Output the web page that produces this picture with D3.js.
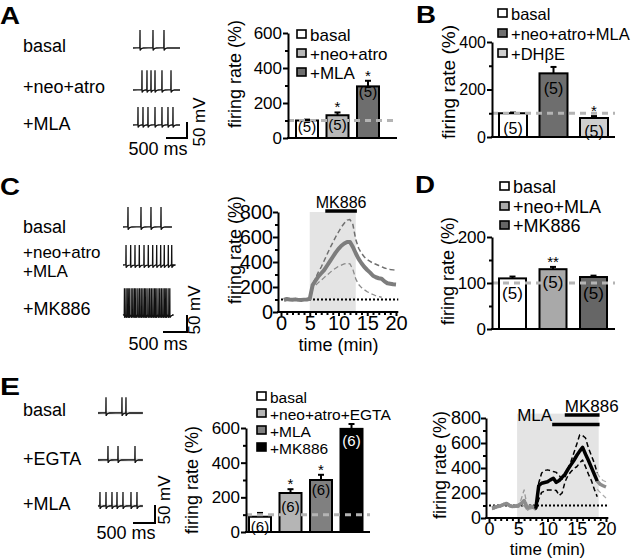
<!DOCTYPE html>
<html>
<head>
<meta charset="utf-8">
<script src="https://cdn.jsdelivr.net/npm/d3@7"></script>
<style>
  body { margin: 0; background: #fff; }
  svg text { font-family: "Liberation Sans", Arial, Helvetica, sans-serif; fill: #000; }
</style>
</head>
<body>
<svg id="fig" width="640" height="558"></svg>
<script>
const FONT = '"Liberation Sans", Arial, Helvetica, sans-serif';

// ---------- data ----------
// A: firing rate (%)
const aCats = ['basal', '+neo+atro', '+MLA'];
const aValues = [100, 130, 295];
const aErrors = [5, 16, 32];
const aN = ['(5)', '(5)', '(5)'];
const aStars = ['', '*', '*'];

// B
const bCats = ['basal', '+neo+atro+MLA', '+DH\u03B2E'];
const bValues = [100, 268, 80];
const bErrors = [3, 27, 8];
const bN = ['(5)', '(5)', '(5)'];
const bStars = ['', '', '*'];

// D
const dCats = ['basal', '+neo+MLA', '+MK886'];
const dValues = [110, 130, 113];
const dErrors = [4, 5, 3];
const dN = ['(5)', '(5)', '(5)'];
const dStars = ['', '**', ''];

// E bars
const eCats = ['basal', '+neo+atro+EGTA', '+MLA', '+MK886'];
const eValues = [88, 225, 300, 595];
const eErrors = [22, 22, 30, 28];
const eN = ['(6)', '(6)', '(6)', '(6)'];
const eStars = ['', '*', '*', ''];

// C time course (min, %)
const cTime = [0.5, 1, 1.5, 2, 2.5, 3, 3.5, 4, 4.5, 5, 5.5, 6, 6.5, 7, 7.5, 8, 8.5, 9, 9.5, 10,
  10.5, 11, 11.5, 12, 12.5, 13, 13.5, 14, 14.5, 15, 15.5, 16, 16.5, 17, 17.5, 18, 18.5, 19, 19.5, 20];
const cMean = [96, 104, 100, 98, 101, 97, 96, 99, 100, 105, 215, 250, 285, 310, 335, 370, 405, 440, 475, 505,
  530, 548, 560, 560, 520, 470, 425, 390, 360, 336, 315, 290, 278, 270, 266, 245, 230, 226, 222, 220];
const cUpperTime = [5, 5.5, 6, 6.5, 7, 7.5, 8, 8.5, 9, 9.5, 10, 10.5, 11, 11.5, 12, 12.5, 13, 13.5,
  14, 14.5, 15, 15.5, 16, 16.5, 17, 17.5, 18, 18.5, 19, 19.5, 20];
const cUpper = [105, 225, 270, 320, 360, 410, 460, 510, 555, 600, 640, 680, 710, 735, 740, 700, 580, 510,
  470, 440, 420, 405, 390, 382, 372, 362, 352, 345, 340, 337, 335];
const cLowerTime = [5, 5.5, 6, 6.5, 7, 7.5, 8, 8.5, 9, 9.5, 10, 10.5, 11, 11.5, 12, 12.5, 13, 13.5,
  14, 14.5, 15, 15.5, 16, 16.5, 17, 17.5];
const cLower = [105, 200, 215, 235, 255, 275, 295, 315, 335, 350, 365, 375, 385, 390, 385, 340, 265, 220,
  195, 178, 162, 150, 140, 130, 124, 118];
const cShade = [5, 13];
const cDrugBar = [7.7, 13.2];

// E time course
const eBaseTime = [0.5, 1, 1.5, 2, 2.5, 3, 3.5, 4, 4.5, 5, 5.5, 6, 6.5, 7, 7.5, 8];
const eBaseMean = [78, 85, 92, 98, 108, 116, 100, 92, 95, 97, 117, 140, 80, 92, 85, 78];
const eBaseUpper = [90, 96, 102, 108, 118, 126, 110, 102, 105, 110, 150, 225, 100, 110, 98, 90];
const eBaseLower = [68, 74, 82, 88, 98, 106, 90, 82, 85, 85, 95, 100, 60, 75, 70, 62];
const eDrugTime = [8, 8.5, 9, 9.5, 10, 10.5, 11, 11.5, 12, 12.5, 13, 13.5, 14, 14.5, 15, 15.5, 16, 16.5,
  17, 17.5, 18, 18.5];
const eDrugMean = [75, 258, 278, 284, 290, 305, 318, 285, 300, 325, 350, 390, 425, 460, 500, 535, 565, 510,
  460, 405, 350, 295];
const eDrugUpper = [80, 280, 360, 380, 385, 380, 372, 365, 340, 310, 330, 400, 450, 520, 590, 665, 660, 640,
  560, 500, 440, 360];
const eDrugLower = [65, 150, 205, 215, 224, 224, 224, 220, 180, 200, 290, 340, 370, 395, 410, 440, 464, 410,
  350, 300, 230, 170];
const eEndTime = [18.5, 19, 19.5, 20];
const eEndMean = [295, 270, 258, 248];
const eEndUpper = [360, 320, 300, 290];
const eEndLower = [230, 205, 182, 160];
const eShade = [4.8, 18.75];
const eMlaBar = [10.8, 18.9];
const eMkBar = [12.95, 18.9];

// spike times (ms) and spike peaks (mV) of the example traces
const aBasalSpikes = [167, 476, 738];
const aNeoSpikes = [214, 333, 429, 524, 690, 905];
const aMlaSpikes = [119, 238, 357, 524, 690, 833, 952];
const aPeaks = [56, 62, 56];
const cBasalSpikes = [104, 375, 583, 792];
const cNeoMlaSpikes = [63, 160, 250, 340, 438, 527, 619, 702, 785, 860, 944, 1015];
const cMkSpikes = [30, 65, 100, 130, 170, 205, 240, 270, 310, 345, 380, 415, 450, 480, 520, 555, 590, 625,
  660, 690, 730, 765, 800, 835, 870, 900, 940, 975];
const cPeaks = [59, 59, 79];
const eBasalSpikes = [182, 545, 636];
const eEgtaSpikes = [227, 455, 841];
const eMlaSpikes = [45, 182, 318, 432, 568, 750, 886];
const ePeaks = [44, 39, 39];

// ---------- drawing ----------
const svg = d3.select('#fig');

function styleAxis(g, size) {
  g.selectAll('text').attr('font-size', size).attr('font-family', FONT).attr('fill', '#000');
  g.selectAll('line, path').attr('stroke', '#000').attr('stroke-width', 2);
}

function yAxis(scale, x, major, minor, size, pad) {
  const g = svg.append('g').attr('transform', `translate(${x},0)`);
  g.call(d3.axisLeft(scale).tickValues(major).tickSize(5).tickSizeOuter(0).tickPadding(pad));
  const m = g.append('g').call(d3.axisLeft(scale).tickValues(minor).tickSize(3).tickFormat(''));
  m.select('.domain').remove();
  styleAxis(g, size);
}

function yLabel(x, y, size, txt) {
  svg.append('text')
    .attr('transform', `translate(${x},${y}) rotate(-90)`)
    .attr('text-anchor', 'middle').attr('dy', '0.35em')
    .attr('font-size', size).text(txt);
}

function letter(x, y, l) {
  svg.append('text').attr('x', x).attr('y', y).attr('font-size', 24).attr('font-weight', 'bold')
    .attr('textLength', 20).attr('lengthAdjust', 'spacingAndGlyphs').text(l);
}

function legend(x, baselines, labels, fills, size, sq) {
  labels.forEach((t, i) => {
    svg.append('rect').attr('x', x).attr('y', baselines[i] - sq - 2).attr('width', sq).attr('height', sq - 1)
      .attr('fill', fills[i]).attr('stroke', '#000').attr('stroke-width', 1.6);
    svg.append('text').attr('x', x + sq + 4).attr('y', baselines[i]).attr('font-size', size).text(t);
  });
}

function barPanel(c) {
  const gap = c.step - c.width;
  const x = d3.scaleBand().domain(c.cats)
    .range([c.first - gap / 2, c.first - gap / 2 + c.step * c.cats.length])
    .paddingInner(gap / c.step).paddingOuter(gap / c.step / 2);
  const y = d3.scaleLinear().domain([0, c.max]).range([c.bottom, c.top]);
  const g = svg.append('g');
  const idx = c.cats.map((d, i) => i);
  const cx = i => x(c.cats[i]) + x.bandwidth() / 2;

  g.selectAll('.bar').data(idx).enter().append('rect')
    .attr('x', i => x(c.cats[i])).attr('y', i => y(c.values[i]))
    .attr('width', x.bandwidth()).attr('height', i => y(0) - y(c.values[i]))
    .attr('fill', i => c.fills[i]).attr('stroke', '#000').attr('stroke-width', 2);

  g.selectAll('.err').data(idx).enter().append('line')
    .attr('x1', cx).attr('x2', cx)
    .attr('y1', i => y(c.values[i])).attr('y2', i => y(c.values[i] + c.errors[i]))
    .attr('stroke', '#000').attr('stroke-width', 2);
  g.selectAll('.cap').data(idx).enter().append('line')
    .attr('x1', i => cx(i) - 3).attr('x2', i => cx(i) + 3)
    .attr('y1', i => y(c.values[i] + c.errors[i])).attr('y2', i => y(c.values[i] + c.errors[i]))
    .attr('stroke', '#000').attr('stroke-width', 2);

  g.append('line').attr('x1', c.axisX).attr('x2', c.axisEnd).attr('y1', y(100)).attr('y2', y(100))
    .attr('stroke', '#b4b4b4').attr('stroke-width', 3).attr('stroke-dasharray', '6,5');

  g.selectAll('.n').data(idx).enter().append('text')
    .attr('x', cx).attr('y', i => y(c.nAt[i]))
    .attr('dy', '0.35em').attr('text-anchor', 'middle').attr('font-size', c.nSize)
    .style('fill', i => c.nColors[i]).text(i => c.ns[i]);

  g.selectAll('.star').data(idx.filter(i => c.stars[i])).enter().append('text')
    .attr('x', cx).attr('y', i => y(c.values[i] + c.errors[i]))
    .attr('text-anchor', 'middle').attr('font-size', 15).text(i => c.stars[i]);

  g.append('line').attr('x1', c.axisX - 1).attr('x2', c.axisEnd).attr('y1', y(0)).attr('y2', y(0))
    .attr('stroke', '#000').attr('stroke-width', 2);
  yAxis(y, c.axisX, c.major, c.minor, c.tickSize, 1);
}

function tracePoints(spikes, dur, peak) {
  const pts = [[0, 0]];
  spikes.forEach((s, i) => {
    const next = i < spikes.length - 1 ? spikes[i + 1] : dur + 200;
    pts.push([s - 4, 1], [s, peak], [s + 3, -8], [s + 9, -6]);
    if (s + 35 < next - 6) pts.push([s + 35, -2]);
    if (s + 80 < next - 6) pts.push([s + 80, 0]);
  });
  pts.push([dur, 0]);
  return pts;
}

function trace(x0, baseline, pxPerMs, pxPerMv, spikes, dur, peak, grey) {
  const tx = d3.scaleLinear().domain([0, dur]).range([x0, x0 + dur * pxPerMs]);
  const ty = d3.scaleLinear().domain([0, 50]).range([baseline, baseline - 50 * pxPerMv]);
  const line = d3.line().x(d => tx(d[0])).y(d => ty(d[1]));
  if (grey) {
    svg.append('path').attr('d', line([[0, 0], [dur, 0]])).attr('fill', 'none')
      .attr('stroke', '#bdbdbd').attr('stroke-width', 2.5);
  }
  svg.append('path').attr('d', line(tracePoints(spikes, dur, peak))).attr('fill', 'none')
    .attr('stroke', '#111').attr('stroke-width', 1.3);
}

function scaleBar(x1, x2, y, yTop, msText, msX, msY, mvX, mvY) {
  svg.append('path').attr('d', `M${x1},${y}H${x2}V${yTop}`).attr('fill', 'none')
    .attr('stroke', '#000').attr('stroke-width', 2);
  svg.append('text').attr('x', msX).attr('y', msY).attr('text-anchor', 'middle').attr('font-size', 18).text(msText);
  svg.append('text').attr('transform', `translate(${mvX},${mvY}) rotate(-90)`).attr('text-anchor', 'middle')
    .attr('dy', '0.35em').attr('font-size', 17).text('50 mV');
}

function label(x, y, t, size) {
  svg.append('text').attr('x', x).attr('y', y).attr('font-size', size || 18).text(t);
}

function series(x, y, t, v, color, w, dash) {
  const line = d3.line().x((d, i) => x(t[i])).y(d => y(d));
  svg.append('path').attr('d', line(v)).attr('fill', 'none').attr('stroke', color)
    .attr('stroke-width', w).attr('stroke-linejoin', 'round').attr('stroke-dasharray', dash || null);
}

function timeAxes(x, y, axisX, tickSize, xLabelY, xLabelSize) {
  svg.append('line').attr('x1', axisX - 1).attr('x2', x(20.4)).attr('y1', y(0)).attr('y2', y(0))
    .attr('stroke', '#000').attr('stroke-width', 2);
  const gx = svg.append('g').attr('transform', `translate(0,${y(0)})`);
  gx.call(d3.axisBottom(x).tickValues([0, 5, 10, 15, 20]).tickSize(4).tickSizeOuter(0).tickPadding(0));
  gx.select('.domain').remove();
  const mx = gx.append('g').call(d3.axisBottom(x).tickValues([1, 2, 3, 4, 6, 7, 8, 9, 11, 12, 13, 14, 16, 17, 18, 19])
    .tickSize(3).tickFormat(''));
  mx.select('.domain').remove();
  styleAxis(gx, tickSize);
  yAxis(y, axisX, [0, 200, 400, 600, 800], [100, 300, 500, 700], tickSize, 0);
  svg.append('text').attr('x', (x(0) + x(20)) / 2).attr('y', xLabelY).attr('text-anchor', 'middle')
    .attr('font-size', xLabelSize).text('time (min)');
}

// ---- Panel A ----
letter(0, 24, 'A');
label(23, 52, 'basal');
label(23, 93, '+neo+atro');
label(23, 130, '+MLA');
trace(133, 48, 0.042, 0.32, aBasalSpikes, 1120, aPeaks[0]);
trace(133, 90, 0.042, 0.32, aNeoSpikes, 1120, aPeaks[1]);
trace(133, 125, 0.042, 0.32, aMlaSpikes, 1120, aPeaks[2]);
scaleBar(166, 187, 138, 122, '500 ms', 158, 155, 199, 122);
barPanel({cats: aCats, values: aValues, errors: aErrors, ns: aN, stars: aStars,
  fills: ['#fff', '#b8b8b8', '#6e6e6e'], nAt: [63, 74, 264], nColors: ['#000', '#000', '#000'], nSize: 15,
  axisX: 288, axisEnd: 397, first: 296, step: 30.5, width: 22,
  top: 33, bottom: 138, max: 600, major: [0, 200, 400, 600], minor: [100, 300, 500], tickSize: 17});
yLabel(235, 74, 18, 'firing rate (%)');
legend(297, [41, 60, 79], aCats, ['#fff', '#b8b8b8', '#6e6e6e'], 17, 9);

// ---- Panel B ----
letter(416, 23, 'B');
barPanel({cats: bCats, values: bValues, errors: bErrors, ns: bN, stars: bStars,
  fills: ['#fff', '#6e6e6e', '#cfcfcf'], nAt: [38, 206, 25], nColors: ['#000', '#000', '#000'], nSize: 16,
  axisX: 492, axisEnd: 615, first: 499, step: 40.5, width: 28,
  top: 42, bottom: 137, max: 400, major: [0, 200, 400], minor: [100, 300], tickSize: 16});
yLabel(448, 82, 19, 'firing rate (%)');
legend(498, [20, 40, 60], bCats, ['#fff', '#6e6e6e', '#cfcfcf'], 16.5, 9);

// ---- Panel C ----
letter(0, 195, 'C');
label(23, 233, 'basal');
label(23, 258, '+neo+atro', 17);
label(23, 277, '+MLA', 17);
label(23, 315, '+MK886');
trace(123, 227, 0.048, 0.34, cBasalSpikes, 1020, cPeaks[0]);
trace(123, 265, 0.048, 0.34, cNeoMlaSpikes, 1020, cPeaks[1]);
trace(123, 315, 0.048, 0.34, cMkSpikes, 1020, cPeaks[2]);
scaleBar(163, 187, 332, 315, '500 ms', 158, 350, 194, 310);
{
  const x = d3.scaleLinear().domain([0, 20]).range([281, 396]);
  const y = d3.scaleLinear().domain([0, 800]).range([312, 212]);
  svg.append('rect').attr('x', x(cShade[0])).attr('y', y(800)).attr('width', x(cShade[1]) - x(cShade[0]))
    .attr('height', y(0) - y(800)).attr('fill', '#e4e4e4');
  svg.append('line').attr('x1', x(0)).attr('x2', x(20.4)).attr('y1', y(100)).attr('y2', y(100))
    .attr('stroke', '#000').attr('stroke-width', 2).attr('stroke-dasharray', '2,2');
  series(x, y, cUpperTime, cUpper, '#6f6f6f', 1.5, '5,3');
  series(x, y, cLowerTime, cLower, '#8a8a8a', 1.3, '5,3');
  series(x, y, cTime, cMean, '#7d7d7d', 4);
  svg.append('line').attr('x1', x(cDrugBar[0])).attr('x2', x(cDrugBar[1])).attr('y1', 211).attr('y2', 211)
    .attr('stroke', '#000').attr('stroke-width', 3.5);
  svg.append('text').attr('x', (x(cDrugBar[0]) + x(cDrugBar[1])) / 2).attr('y', 208).attr('text-anchor', 'middle')
    .attr('font-size', 16).text('MK886');
  timeAxes(x, y, 278, 20, 351, 18);
  yLabel(235, 250, 18, 'firing rate (%)');
}

// ---- Panel D ----
letter(415, 193, 'D');
barPanel({cats: dCats, values: dValues, errors: dErrors, ns: dN, stars: dStars,
  fills: ['#fff', '#a9a9a9', '#666'], nAt: [78, 102, 78], nColors: ['#000', '#000', '#000'], nSize: 17,
  axisX: 492, axisEnd: 615, first: 499, step: 40.5, width: 27,
  top: 237, bottom: 329, max: 200, major: [0, 100, 200], minor: [50, 150], tickSize: 17});
yLabel(448, 271, 18, 'firing rate (%)');
legend(500, [193, 213, 232], dCats, ['#fff', '#a9a9a9', '#666'], 18, 9);

// ---- Panel E ----
letter(0, 395, 'E');
label(23, 416, 'basal');
label(23, 465, '+EGTA');
label(23, 510, '+MLA');
trace(98, 413, 0.044, 0.36, eBasalSpikes, 1020, ePeaks[0], true);
trace(98, 460, 0.044, 0.36, eEgtaSpikes, 1020, ePeaks[1], true);
trace(98, 506, 0.044, 0.36, eMlaSpikes, 1020, ePeaks[2], true);
scaleBar(133, 155, 523, 505, '500 ms', 126, 539, 164, 500);
barPanel({cats: eCats, values: eValues, errors: eErrors, ns: eN, stars: eStars,
  fills: ['#fff', '#b5b5b5', '#808080', '#000'], nAt: [29, 144, 242, 525], nColors: ['#000', '#000', '#000', '#fff'],
  nSize: 15, axisX: 246, axisEnd: 370, first: 249, step: 30.5, width: 22,
  top: 428, bottom: 532, max: 600, major: [0, 200, 400, 600], minor: [100, 300, 500], tickSize: 17});
yLabel(192, 480, 18, 'firing rate (%)');
legend(257, [403, 420, 437, 454], eCats, ['#fff', '#b5b5b5', '#808080', '#000'], 15.5, 9);

{
  const x = d3.scaleLinear().domain([0, 20]).range([489, 606]);
  const y = d3.scaleLinear().domain([0, 800]).range([518, 418]);
  svg.append('rect').attr('x', x(eShade[0])).attr('y', y(835)).attr('width', x(eShade[1]) - x(eShade[0]))
    .attr('height', y(0) - y(835)).attr('fill', '#e4e4e4');
  svg.append('line').attr('x1', x(0)).attr('x2', x(20.4)).attr('y1', y(100)).attr('y2', y(100))
    .attr('stroke', '#000').attr('stroke-width', 2).attr('stroke-dasharray', '2,2');
  series(x, y, eBaseTime, eBaseUpper, '#999', 1.3, '5,3');
  series(x, y, eBaseTime, eBaseLower, '#999', 1.3, '5,3');
  series(x, y, eEndTime, eEndUpper, '#aaa', 1.2, '5,3');
  series(x, y, eEndTime, eEndLower, '#aaa', 1.2, '5,3');
  series(x, y, eBaseTime, eBaseMean, '#8c8c8c', 3.5);
  series(x, y, eEndTime, eEndMean, '#8c8c8c', 3.5);
  series(x, y, eDrugTime, eDrugUpper, '#000', 1.5, '5,3');
  series(x, y, eDrugTime, eDrugLower, '#000', 1.5, '5,3');
  series(x, y, eDrugTime, eDrugMean, '#000', 3.5);
  svg.append('line').attr('x1', x(eMlaBar[0])).attr('x2', x(eMlaBar[1])).attr('y1', 424.5).attr('y2', 424.5)
    .attr('stroke', '#000').attr('stroke-width', 3.5);
  svg.append('line').attr('x1', x(eMkBar[0])).attr('x2', x(eMkBar[1])).attr('y1', 415).attr('y2', 415)
    .attr('stroke', '#000').attr('stroke-width', 3.5);
  svg.append('text').attr('x', x(eMlaBar[0])).attr('y', 421).attr('text-anchor', 'end')
    .attr('font-size', 17).text('MLA');
  svg.append('text').attr('x', x(eMkBar[0])).attr('y', 412).attr('font-size', 17).text('MK886');
  timeAxes(x, y, 486, 18, 555, 17);
  yLabel(440, 465, 18, 'firing rate (%)');
}
</script>
</body>
</html>
